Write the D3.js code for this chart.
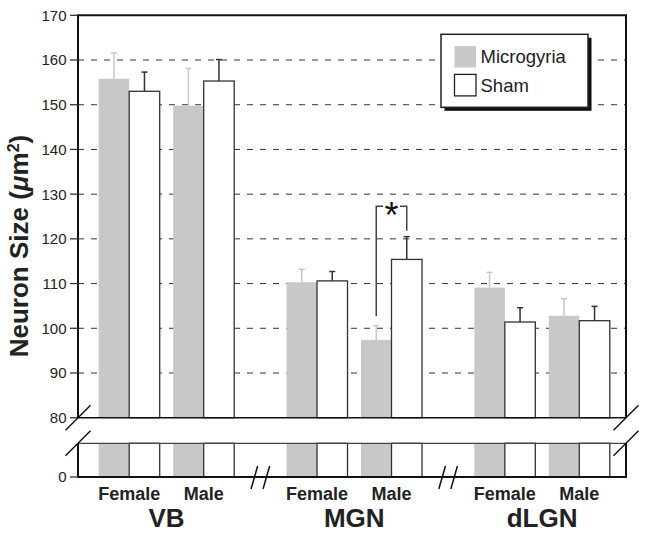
<!DOCTYPE html>
<html>
<head>
<meta charset="utf-8">
<script src="https://cdn.jsdelivr.net/npm/d3@7"></script>
<style>
  html, body { margin: 0; padding: 0; background: #fff; }
  svg { display: block; font-family: "Liberation Sans", Arial, Helvetica, sans-serif; }
</style>
</head>
<body>
<svg id="chart" width="649" height="535"></svg>
<script>
// ---- data ----
const regions = ["VB", "MGN", "dLGN"];
const sexes = ["Female", "Male"];
const series = ["Microgyria", "Sham"];
const microMeans = [155.8, 149.8, 110.3, 97.4, 109.1, 102.8];
const microErr   = [5.8, 8.3, 2.9, 3.2, 3.4, 3.8];
const shamMeans  = [153.0, 155.3, 110.6, 115.4, 101.4, 101.7];
const shamErr    = [4.3, 4.8, 2.1, 5.1, 3.2, 3.2];
const yTicks = [80, 90, 100, 110, 120, 130, 140, 150, 160, 170];
const gridTicks = [90, 100, 110, 120, 130, 140, 150, 160];
const lowTicks = [0];
const sigRegion = "MGN", sigSex = "Male", sigLabel = "*";
const sigTop = 127.3, sigLeftFoot = 102.7, sigRightFoot = 121.8;

// ---- layout ----
const svg = d3.select("#chart");
const L = 78, R = 626;
const upTop = 15.3, upBot = 417.7;
const lowTop = 443.3, lowBot = 477;

const y = d3.scaleLinear().domain([80, 170]).range([upBot, upTop]);
const yLow = d3.scaleLinear().domain([0, 7.5]).range([lowBot, lowTop]);

const xGroup = d3.scaleBand().domain(regions).range([98.7, 609.8]).paddingInner(0.2785).paddingOuter(0);
const xSex = d3.scaleBand().domain(sexes).range([0, xGroup.bandwidth()]).paddingInner(0.181);
const xSer = d3.scaleBand().domain(series).range([0, xSex.bandwidth()]);

const gray = "#c8c8c8";
const dark = "#333";

const rows = [];
regions.forEach((r, gi) => sexes.forEach((s, si) => {
  const i = gi * 2 + si;
  rows.push({ region: r, sex: s, series: "Microgyria", mean: microMeans[i], err: microErr[i] });
  rows.push({ region: r, sex: s, series: "Sham", mean: shamMeans[i], err: shamErr[i] });
}));
const bx = d => xGroup(d.region) + xSex(d.sex) + xSer(d.series);
const bw = xSer.bandwidth();

// grid lines (dashed)
svg.append("g").selectAll("line").data(gridTicks).join("line")
  .attr("x1", L).attr("x2", R)
  .attr("y1", d => y(d)).attr("y2", d => y(d))
  .attr("stroke", dark).attr("stroke-width", 1).attr("stroke-dasharray", "6,7");

// upper bars
svg.append("g").selectAll("rect").data(rows).join("rect")
  .attr("x", bx).attr("width", bw)
  .attr("y", d => y(d.mean)).attr("height", d => y(80) - y(d.mean))
  .attr("fill", d => d.series === "Microgyria" ? gray : "#fff")
  .attr("stroke", d => d.series === "Microgyria" ? "none" : dark)
  .attr("stroke-width", 1.3);

// lower bars
svg.append("g").selectAll("rect").data(rows).join("rect")
  .attr("x", bx).attr("width", bw)
  .attr("y", yLow(7.5)).attr("height", yLow(0) - yLow(7.5))
  .attr("fill", d => d.series === "Microgyria" ? gray : "#fff")
  .attr("stroke", d => d.series === "Microgyria" ? "none" : dark)
  .attr("stroke-width", 1.3);

// error bars
const eb = svg.append("g").selectAll("g").data(rows).join("g")
  .attr("stroke", d => d.series === "Microgyria" ? gray : dark)
  .attr("stroke-width", 1.5);
eb.append("line")
  .attr("x1", d => bx(d) + bw / 2).attr("x2", d => bx(d) + bw / 2)
  .attr("y1", d => y(d.mean)).attr("y2", d => y(d.mean + d.err));
eb.append("line")
  .attr("x1", d => bx(d) + bw / 2 - 3).attr("x2", d => bx(d) + bw / 2 + 3)
  .attr("y1", d => y(d.mean + d.err)).attr("y2", d => y(d.mean + d.err));

// panel frames
const fr = svg.append("g").attr("stroke", "#111").attr("fill", "none");
fr.append("path").attr("stroke-width", 2)
  .attr("d", `M${L},${upBot}V${upTop}H${R}V${upBot}`);
fr.append("line").attr("x1", L).attr("x2", R).attr("y1", upBot).attr("y2", upBot).attr("stroke-width", 1.5);
fr.append("line").attr("x1", L).attr("x2", R).attr("y1", lowTop).attr("y2", lowTop).attr("stroke-width", 1.3).attr("stroke", "#444");
fr.append("path").attr("stroke-width", 2)
  .attr("d", `M${L},${lowTop}V${lowBot}H${R}V${lowTop}`);

// y ticks and labels
const tg = svg.append("g");
tg.selectAll("line.t").data(yTicks).join("line").attr("class", "t")
  .attr("x1", L - 8).attr("x2", L).attr("y1", d => y(d)).attr("y2", d => y(d))
  .attr("stroke", dark).attr("stroke-width", 1.3);
tg.selectAll("text.t").data(yTicks).join("text").attr("class", "t")
  .attr("x", 66.5).attr("y", d => y(d)).attr("dy", "0.36em")
  .attr("text-anchor", "end").attr("font-size", 15).attr("fill", "#222")
  .text(d => d);
tg.selectAll("line.l").data(lowTicks).join("line").attr("class", "l")
  .attr("x1", L - 8).attr("x2", L).attr("y1", d => yLow(d)).attr("y2", d => yLow(d))
  .attr("stroke", dark).attr("stroke-width", 1.3);
tg.selectAll("text.l").data(lowTicks).join("text").attr("class", "l")
  .attr("x", 66.5).attr("y", d => yLow(d)).attr("dy", "0.36em")
  .attr("text-anchor", "end").attr("font-size", 15).attr("fill", "#222")
  .text(d => d);

// axis break marks
const brk = svg.append("g").attr("stroke", "#111").attr("stroke-width", 1.5);
[[L, upBot], [L, lowTop], [R, upBot], [R, lowTop]].forEach(([cx, cy]) => {
  brk.append("line").attr("x1", cx - 12.5).attr("y1", cy + 12.5).attr("x2", cx + 12.5).attr("y2", cy - 12.5);
});
// x-axis break marks between groups
const gapCenters = [
  (xGroup("VB") + xGroup.bandwidth() + xGroup("MGN")) / 2,
  (xGroup("MGN") + xGroup.bandwidth() + xGroup("dLGN")) / 2
];
gapCenters.forEach(c => {
  [-6, 6].forEach(o => {
    brk.append("line").attr("x1", c + o - 3.3).attr("y1", lowBot + 12)
      .attr("x2", c + o + 3.3).attr("y2", lowBot - 11);
  });
});

// x labels
svg.append("g").selectAll("text").data(rows.filter(d => d.series === "Microgyria")).join("text")
  .attr("x", d => xGroup(d.region) + xSex(d.sex) + xSex.bandwidth() / 2)
  .attr("y", 499.5).attr("text-anchor", "middle")
  .attr("font-size", 18).attr("font-weight", "bold").attr("fill", "#222")
  .text(d => d.sex);
svg.append("g").selectAll("text").data(regions).join("text")
  .attr("x", d => xGroup(d) + xGroup.bandwidth() / 2)
  .attr("y", 526.5).attr("text-anchor", "middle")
  .attr("font-size", 26).attr("font-weight", "bold").attr("fill", "#222")
  .text(d => d);

// y axis title
const yt = svg.append("text")
  .attr("transform", "translate(27.5,246) rotate(-90)")
  .attr("text-anchor", "middle").attr("font-size", 26).attr("font-weight", "bold").attr("fill", "#222");
yt.append("tspan").text("Neuron Size (");
yt.append("tspan").attr("font-style", "italic").text("μ");
yt.append("tspan").text("m");
yt.append("tspan").attr("font-size", 16).attr("dy", "-0.55em").text("2");
yt.append("tspan").attr("dy", "0.35em").text(")");

// significance bracket
const sxL = xGroup(sigRegion) + xSex(sigSex) + xSer("Microgyria") + bw / 2;
const sxR = xGroup(sigRegion) + xSex(sigSex) + xSer("Sham") + bw / 2;
const sMid = (sxL + sxR) / 2;
svg.append("path")
  .attr("d", `M${sxL},${y(sigLeftFoot)}V${y(sigTop)}H${sMid - 8.5}M${sMid + 8.5},${y(sigTop)}H${sxR}V${y(sigRightFoot)}`)
  .attr("fill", "none").attr("stroke", "#444").attr("stroke-width", 1.5);
svg.append("text").attr("x", sMid).attr("y", y(sigTop) + 22)
  .attr("text-anchor", "middle").attr("font-size", 36).attr("fill", "#111")
  .text(sigLabel);

// legend
const lg = svg.append("g").attr("transform", "translate(441,34.3)");
lg.append("rect").attr("x", 3.5).attr("y", 3.5).attr("width", 147).attr("height", 73).attr("fill", "#111");
lg.append("rect").attr("width", 147).attr("height", 73).attr("fill", "#fff").attr("stroke", "#222").attr("stroke-width", 1.5);
series.forEach((s, i) => {
  lg.append("rect").attr("x", 13.5).attr("y", 11.8 + i * 28.3).attr("width", 21.5).attr("height", 21.5)
    .attr("fill", i === 0 ? gray : "#fff")
    .attr("stroke", i === 0 ? "none" : "#222").attr("stroke-width", 1.3);
  lg.append("text").attr("x", 39.5).attr("y", 22.5 + i * 28.3).attr("dy", "0.36em")
    .attr("font-size", 18.5).attr("fill", "#222").text(s);
});
</script>
</body>
</html>
